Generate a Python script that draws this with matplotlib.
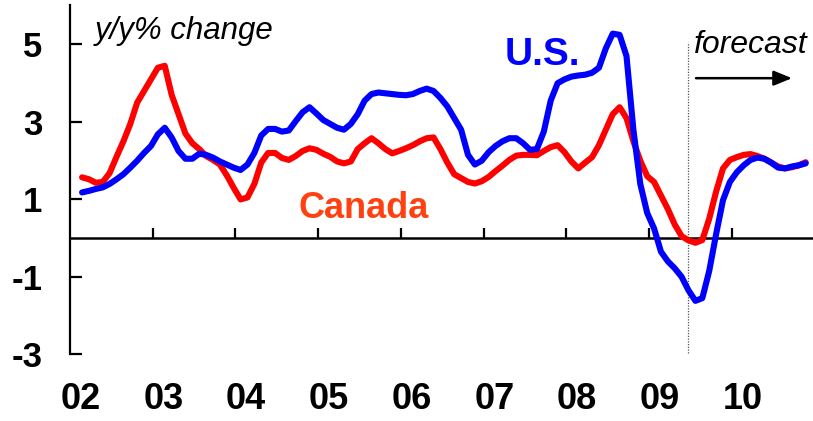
import matplotlib
matplotlib.use("Agg")
import matplotlib.pyplot as plt
import numpy as np

plt.rcParams['font.family'] = ['Liberation Sans', 'DejaVu Sans']

# Monthly y/y % change, starting early 2002 (one value per month)
canada = [1.57, 1.52, 1.43, 1.45, 1.68, 2.10, 2.50, 2.95, 3.50, 3.80,
          4.10, 4.40, 4.45, 3.70, 3.20, 2.70, 2.45, 2.30, 2.12, 2.02,
          1.90, 1.62, 1.30, 1.00, 1.05, 1.40, 1.95, 2.20, 2.20, 2.07,
          2.02, 2.12, 2.25, 2.32, 2.28, 2.18, 2.10, 1.98, 1.93, 1.98,
          2.30, 2.45, 2.58, 2.45, 2.30, 2.19, 2.25, 2.32, 2.40, 2.50,
          2.58, 2.60, 2.30, 1.95, 1.65, 1.55, 1.45, 1.41, 1.47, 1.58,
          1.73, 1.87, 2.02, 2.13, 2.15, 2.15, 2.14, 2.25, 2.35, 2.40,
          2.22, 1.98, 1.80, 1.95, 2.09, 2.40, 2.80, 3.20, 3.38, 3.10,
          2.50, 2.00, 1.60, 1.45, 1.10, 0.75, 0.35, 0.05, -0.06, -0.12,
          -0.05, 0.50, 1.20, 1.80, 2.02, 2.09, 2.15, 2.17, 2.12, 2.05,
          1.95, 1.85, 1.80, 1.83, 1.88, 1.96]
us = [1.18, 1.22, 1.27, 1.31, 1.40, 1.52, 1.65, 1.82, 2.00, 2.20,
      2.38, 2.68, 2.85, 2.60, 2.25, 2.05, 2.05, 2.18, 2.15, 2.08,
      1.98, 1.90, 1.82, 1.76, 1.90, 2.20, 2.65, 2.82, 2.82, 2.75,
      2.78, 3.02, 3.25, 3.38, 3.22, 3.05, 2.95, 2.85, 2.80, 2.95,
      3.20, 3.55, 3.72, 3.76, 3.74, 3.72, 3.70, 3.69, 3.72, 3.80,
      3.86, 3.80, 3.62, 3.40, 3.10, 2.80, 2.15, 1.90, 2.00, 2.22,
      2.38, 2.50, 2.58, 2.58, 2.45, 2.28, 2.30, 2.75, 3.55, 4.00,
      4.10, 4.17, 4.20, 4.22, 4.27, 4.40, 4.90, 5.28, 5.25, 4.70,
      2.80, 1.40, 0.65, 0.25, -0.35, -0.60, -0.78, -1.00, -1.35, -1.62,
      -1.55, -0.85, 0.10, 0.98, 1.45, 1.70, 1.88, 2.02, 2.08, 2.05,
      1.95, 1.82, 1.80, 1.85, 1.88, 1.93]
year_labels = ['02', '03', '04', '05', '06', '07', '08', '09', '10']
years = [2002, 2003, 2004, 2005, 2006, 2007, 2008, 2009, 2010]
yticks = [5, 3, 1, -1, -3]
forecast_start = 2009.47

n = len(canada)
x = 2002 + (np.arange(n) + 1.75) / 12.0

fig = plt.figure(figsize=(8.13, 4.21), dpi=100)
ax = fig.add_axes([70/813, 1 - 354.3/421, 743/813, (354.3 - 5)/421])
ax.set_xlim(2002, 2002 + 743/82.7)
ax.set_ylim(-3, 6.02)

ax.plot(x, canada, color='#FF0000', lw=4.4, solid_joinstyle='round', solid_capstyle='round', zorder=3)
ax.plot(x, us, color='#0000FF', lw=4.4, solid_joinstyle='round', solid_capstyle='round', zorder=4)

for s in ['top', 'right']:
    ax.spines[s].set_visible(False)
ax.spines['left'].set_linewidth(1.6)
ax.spines['bottom'].set_position(('data', 0))
ax.spines['bottom'].set_linewidth(1.8)

ax.set_yticks(yticks)
ax.set_yticklabels([str(v) for v in yticks], fontsize=25, fontweight='bold')
ax.tick_params(axis='y', direction='in', length=8.5, width=1.6, pad=20)
ax.set_xticks(years[1:])
ax.tick_params(axis='x', direction='in', length=7, width=1.6, labelbottom=False)

trans = matplotlib.transforms.blended_transform_factory(ax.transData, ax.transAxes)
for yr, lab in zip(years, year_labels):
    ax.text(yr + 0.13, -0.13, lab, transform=trans, ha='center', va='center',
            fontsize=26, fontweight='bold')

ax.axvline(forecast_start, ymin=(-2.97 + 3) / 9.02, ymax=(5.06 + 3) / 9.02,
           color='#555555', lw=0.9, ls=(0, (1, 1.2)), zorder=2)

ax.text(2002 + 25/82.7, 5.36, 'y/y% change', fontsize=22.5,
        fontstyle='italic', ha='left', va='center')
ax.text(2002 + 624/82.7, 4.98, 'forecast', fontsize=23, fontstyle='italic',
        ha='left', va='center')
ax.annotate('', xy=(2002 + 722/82.7, 4.13), xytext=(2002 + 626/82.7, 4.13),
            arrowprops=dict(arrowstyle='-|>,head_length=1.1,head_width=0.45',
                            color='black', lw=1.8, shrinkA=0, shrinkB=0))
ax.text(2002 + 435/82.7, 4.73, 'U.S.', color='#0000FF', fontsize=28, fontweight='bold',
        ha='left', va='center')
ax.text(2002 + 228/82.7, 0.76, 'Canada', color='#FF4010', fontsize=26, fontweight='bold',
        ha='left', va='center')

fig.savefig('out.png', dpi=100)
